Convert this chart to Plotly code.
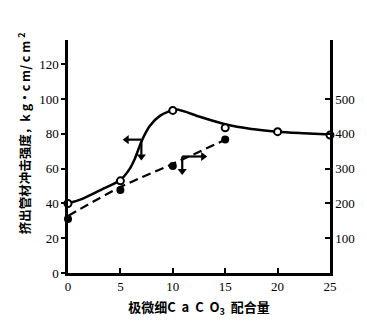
import plotly.graph_objects as go

# CaCO3 loading (parts)
loading = [0, 5, 10, 15, 20, 25]
# Impact strength of extruded pipe, kg·cm/cm² (left axis), measured points
impact = [40, 53, 93.5, 83.5, 81.3, 79.3]
# smooth curve drawn through the impact data
curve_x = [0, 1.3, 3.2, 5, 5.9, 6.4, 7, 7.8, 8.8, 10.3, 12.5, 15, 17.5, 20, 22.5, 25]
curve_y = [40, 42.5, 48, 53.5, 60, 66, 75.5, 84.5, 90.5, 94, 90, 85.5, 82.8, 81.3, 80.4, 79.6]

# Second property (right axis), measured points and fitted dashed trend
loading2 = [0, 5, 10, 15]
second = [155, 239, 308, 384]
trend = [164, 247, 314, 383]

left_ticks = [0, 20, 40, 60, 80, 100, 120]
right_ticks = [100, 200, 300, 400, 500]
x_ticks = [0, 5, 10, 15, 20, 25]

serif = "Liberation Serif"
cjk = "Noto Sans CJK SC"

fig = go.Figure()

fig.add_trace(go.Scatter(
    x=curve_x, y=curve_y, mode="lines",
    line=dict(color="black", width=2.5, shape="spline", smoothing=0.7),
    yaxis="y", hoverinfo="skip", cliponaxis=False))
fig.add_trace(go.Scatter(
    x=loading, y=impact, mode="markers",
    marker=dict(symbol="circle", size=7, color="white",
                line=dict(color="black", width=2)),
    yaxis="y", cliponaxis=False))

fig.add_trace(go.Scatter(
    x=loading2, y=trend, mode="lines",
    line=dict(color="black", width=2.2, dash="9px,5px", shape="spline"),
    yaxis="y2", hoverinfo="skip", cliponaxis=False))
fig.add_trace(go.Scatter(
    x=loading2, y=second, mode="markers",
    marker=dict(symbol="circle", size=8, color="black"),
    yaxis="y2", cliponaxis=False))

# axis-indicator arrows: shafts as shapes, heads as triangle markers
arrows = [
    # (x0, y0, x1, y1, axis, head symbol)
    (7.0, 76.7, 5.6, 76.7, "y", "triangle-left"),
    (7.0, 76.0, 7.0, 67.0, "y", "triangle-down"),
    (10.9, 335, 12.9, 335, "y2", "triangle-right"),
    (10.9, 335, 10.9, 293, "y2", "triangle-down"),
]
shapes = []
for x0, y0, x1, y1, ax, sym in arrows:
    shapes.append(dict(type="line", xref="x", yref=ax, x0=x0, y0=y0, x1=x1, y1=y1,
                       line=dict(color="black", width=2.2)))
    fig.add_trace(go.Scatter(
        x=[x1], y=[y1], mode="markers", yaxis=ax, hoverinfo="skip",
        marker=dict(symbol=sym, size=8, color="black"), cliponaxis=False))

annotations = [dict(
    text="挤出管材冲击强度，k g·c m/ c m <sup>2</sup>",
    xref="paper", yref="paper", x=-0.168, y=0.6,
    xanchor="center", yanchor="middle", textangle=-90, showarrow=False,
    font=dict(family=cjk, size=12.5, color="black", weight="bold"))]

tickfont = dict(family=serif, size=13, color="black")

fig.update_layout(
    width=367, height=325,
    margin=dict(l=68, r=34, t=40, b=51),
    paper_bgcolor="white", plot_bgcolor="white",
    font=dict(family=serif, color="black"),
    showlegend=False,
    shapes=shapes,
    annotations=annotations,
    xaxis=dict(
        range=[0, 25], tickvals=x_ticks, ticktext=[str(v) for v in x_ticks],
        showline=True, linecolor="black", linewidth=2.5,
        ticks="inside", ticklen=5, tickwidth=2, tickcolor="black",
        showgrid=False, zeroline=False,
        tickfont=tickfont,
        title=dict(text="极微细C  a  C  O<sub>3</sub>  配合量", standoff=10,
                   font=dict(family=cjk, size=13, color="black", weight="bold"))),
    yaxis=dict(
        range=[0, 134], tickvals=left_ticks,
        showline=True, linecolor="black", linewidth=2.5,
        ticks="outside", ticklen=4, tickwidth=2, tickcolor="black",
        showgrid=False, zeroline=False,
        tickfont=tickfont),
    yaxis2=dict(
        range=[0, 670], tickvals=right_ticks, overlaying="y", side="right",
        showline=True, linecolor="black", linewidth=2.5,
        ticks="inside", ticklen=5, tickwidth=2, tickcolor="black",
        showgrid=False, zeroline=False,
        tickfont=tickfont),
)

fig.write_html("out.html")
